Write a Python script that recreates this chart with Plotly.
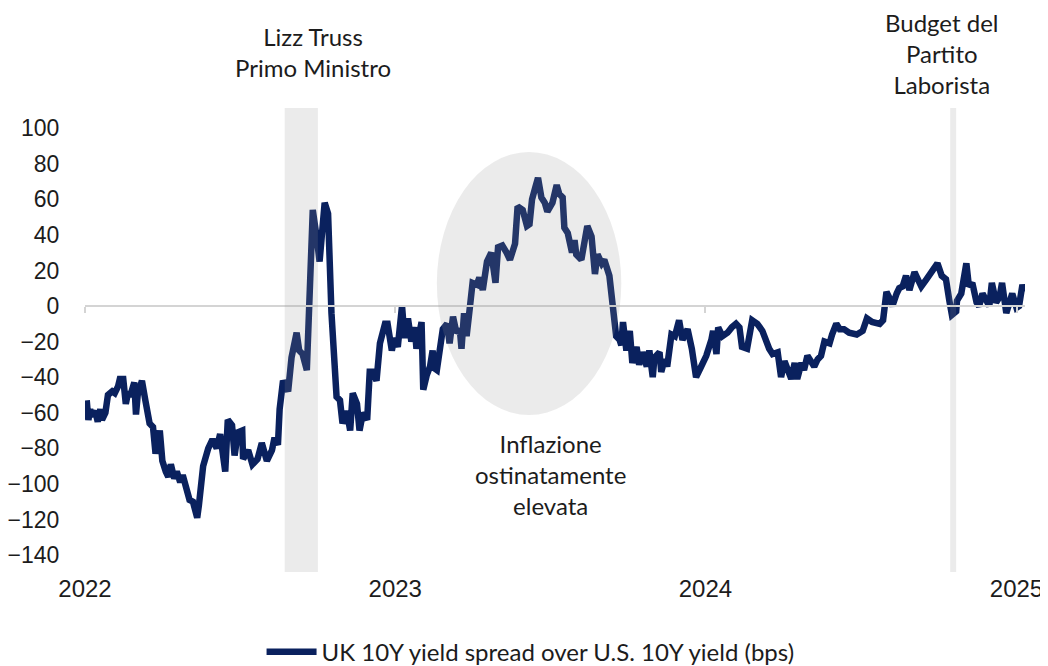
import pandas as pd
import plotly.graph_objects as go

# days since 2022-01-01
day_offsets = [2, 4, 6, 8, 12, 15, 18, 20, 24, 27, 32, 35, 39, 41, 45, 48, 51, 53, 58, 60,
               62, 67, 71, 74, 76, 80, 83, 88, 91, 95, 98, 101, 105, 108, 112, 115, 123, 127, 132, 134,
               139, 145, 150, 155, 159, 165, 168, 173, 176, 180, 185, 186, 192, 197, 203, 208, 214, 220, 223, 227,
               229, 233, 239, 243, 249, 252, 256, 261, 265, 268, 273, 276, 282, 286, 290, 292, 294, 296, 300, 303,
               308, 312, 315, 320, 323, 327, 332, 335, 339, 343, 347, 353, 356, 361, 364, 368, 373, 376, 380, 384,
               388, 390, 396, 398, 402, 406, 409, 411, 414, 421, 426, 429, 433, 437, 441, 443, 446, 449, 453, 456,
               461, 464, 468, 473, 478, 483, 486, 491, 496, 500, 506, 509, 515, 520, 523, 526, 530, 533, 537, 541,
               544, 550, 555, 558, 562, 564, 568, 573, 576, 578, 584, 587, 591, 596, 600, 603, 608, 611, 617, 621,
               625, 629, 631, 633, 637, 641, 644, 649, 652, 656, 661, 664, 668, 670, 676, 678, 682, 685, 690, 694,
               699, 703, 709, 714, 719, 725, 731, 737, 739, 743, 745, 750, 756, 761, 766, 770, 773, 779, 785, 791,
               797, 805, 809, 815, 819, 823, 826, 831, 835, 838, 843, 846, 850, 855, 858, 862, 866, 870, 876, 879,
               884, 888, 893, 899, 908, 915, 920, 926, 935, 939, 943, 946, 950, 955, 958, 962, 966, 970, 976, 979,
               984, 990, 996, 999, 1003, 1008, 1013, 1017, 1020, 1025, 1026, 1031, 1035, 1037, 1040, 1044, 1049, 1052, 1056, 1060,
               1064, 1067, 1072, 1076, 1079, 1084, 1087, 1091, 1096, 1099, 1103, 1105]

spread_bps = [-53, -64, -58, -62, -59, -65, -58, -64, -60, -50, -48, -49, -45, -41, -41, -55, -48, -51, -43, -61,
              -50, -42, -53, -60, -66, -68, -83, -70, -87, -93, -96, -89, -97, -93, -99, -95, -109, -110, -119, -112,
              -90, -80, -75, -80, -72, -93, -64, -67, -84, -71, -70, -86, -81, -89, -86, -77, -87, -81, -74, -78,
              -58, -42, -48, -29, -15, -25, -27, -36, 13, 54, 37, 25, 58, 52, -4, -20, -32, -51, -53, -66,
              -59, -70, -49, -55, -70, -60, -64, -37, -37, -42, -21, -10, -10, -25, -18, -23, 0, -18, -7, -20,
              -12, -24, -9, -47, -39, -34, -25, -35, -36, -13, -10, -21, -6, -15, -13, -24, -4, -17, 0, 13,
              12, 16, 9, 25, 30, 13, 33, 34, 30, 26, 35, 56, 54, 45, 46, 60, 67, 72, 61, 58,
              53, 58, 68, 63, 61, 44, 41, 30, 37, 29, 26, 37, 45, 39, 18, 29, 24, 26, 17, 0,
              -17, -19, -22, -9, -25, -14, -32, -23, -33, -26, -34, -25, -40, -29, -26, -37, -30, -34, -16, -17,
              -8, -19, -13, -24, -40, -34, -28, -19, -14, -27, -12, -17, -15, -12, -10, -12, -23, -24, -8, -10,
              -14, -24, -27, -26, -40, -31, -34, -41, -32, -41, -32, -36, -28, -33, -34, -30, -28, -20, -21, -16,
              -10, -13, -13, -15, -16, -14, -7, -9, -10, -8, 8, 5, 0, 7, 10, 11, 17, 9, 19, 16,
              11, 15, 20, 22, 24, 17, 15, 3, -5, -3, 3, 7, 16, 24, 11, 13, 2, 0, 7, 3,
              0, 13, 2, 5, 13, -4, 2, 7, -1, 0, 12, 8]

year_ticks = ["2022-01-01", "2023-01-01", "2024-01-01", "2025-01-01"]
year_labels = ["2022", "2023", "2024", "2025"]
y_ticks = list(range(-140, 101, 20))

dates = pd.Timestamp("2022-01-01") + pd.to_timedelta(day_offsets, unit="D")

LINE = "#0a215e"
TXT = "#1c1c1c"
x_range = ["2022-01-01", "2025-01-11"]
y_range = [-149.5, 111.3]
zero_pos = (0 - y_range[0]) / (y_range[1] - y_range[0])

fig = go.Figure()
fig.add_trace(go.Scatter(
    x=dates, y=spread_bps, mode="lines",
    line=dict(color=LINE, width=6.5),
    name="UK 10Y yield spread over U.S. 10Y yield (bps)",
))
# helper trace to display the zero-level axis line with ticks
fig.add_trace(go.Scatter(x=[], y=[], xaxis="x2", showlegend=False, hoverinfo="skip"))

shade = "rgba(150,150,150,0.19)"
fig.add_shape(type="rect", xref="x", yref="paper", x0="2022-08-24", x1="2022-10-02", y0=0, y1=1,
              fillcolor=shade, line_width=0, layer="above")
fig.add_shape(type="rect", xref="x", yref="paper", x0="2024-10-15", x1="2024-10-22", y0=0, y1=1,
              fillcolor=shade, line_width=0, layer="above")
fig.add_shape(type="circle", xref="x", yref="y", x0="2023-02-19", x1="2023-09-24", y0=-61.3, y1=86.6,
              fillcolor=shade, line_width=0, layer="above")

ann_font = dict(family="Lato", size=24, color=TXT)
fig.add_annotation(text="Lizz Truss<br>Primo Ministro", xref="paper", yref="paper",
                   x=0.2426, y=1.1207, xanchor="center", yanchor="middle", showarrow=False, font=ann_font)
fig.add_annotation(text="Inflazione<br>ostinatamente<br>elevata", xref="paper", yref="paper",
                   x=0.4957, y=0.210, xanchor="center", yanchor="middle", showarrow=False, font=ann_font)
fig.add_annotation(text="Budget del<br>Partito<br>Laborista", xref="paper", yref="paper",
                   x=0.9117, y=1.1165, xanchor="center", yanchor="middle", showarrow=False, font=ann_font)

fig.update_layout(
    width=1040, height=658,
    margin=dict(l=77, r=23, t=100, b=94, autoexpand=False),
    paper_bgcolor="white", plot_bgcolor="white",
    showlegend=True,
    legend=dict(orientation="h", x=0.474, y=-0.173, xanchor="center", yanchor="middle",
                font=dict(family="Lato", size=24, color=TXT), itemwidth=50,
                bgcolor="rgba(0,0,0,0)"),
    xaxis=dict(range=x_range, type="date", tickvals=year_ticks, ticktext=year_labels,
               showgrid=False, zeroline=False, showline=False, ticks="",
               tickfont=dict(family="Liberation Sans, Arial", size=24, color=TXT)),
    xaxis2=dict(range=x_range, type="date", overlaying="x", anchor="free", position=zero_pos,
                tickvals=year_ticks, showticklabels=False, showgrid=False, zeroline=False,
                showline=True, linecolor="#d4d4d4", linewidth=2,
                ticks="outside", ticklen=6, tickwidth=2, tickcolor="#d4d4d4"),
    yaxis=dict(range=y_range, tickvals=y_ticks, showgrid=False, zeroline=False, showline=False,
               ticks="outside", ticklen=20, tickcolor="rgba(0,0,0,0)",
               tickfont=dict(family="Liberation Sans, Arial", size=23, color=TXT)),
)

fig.write_html("out.html")
